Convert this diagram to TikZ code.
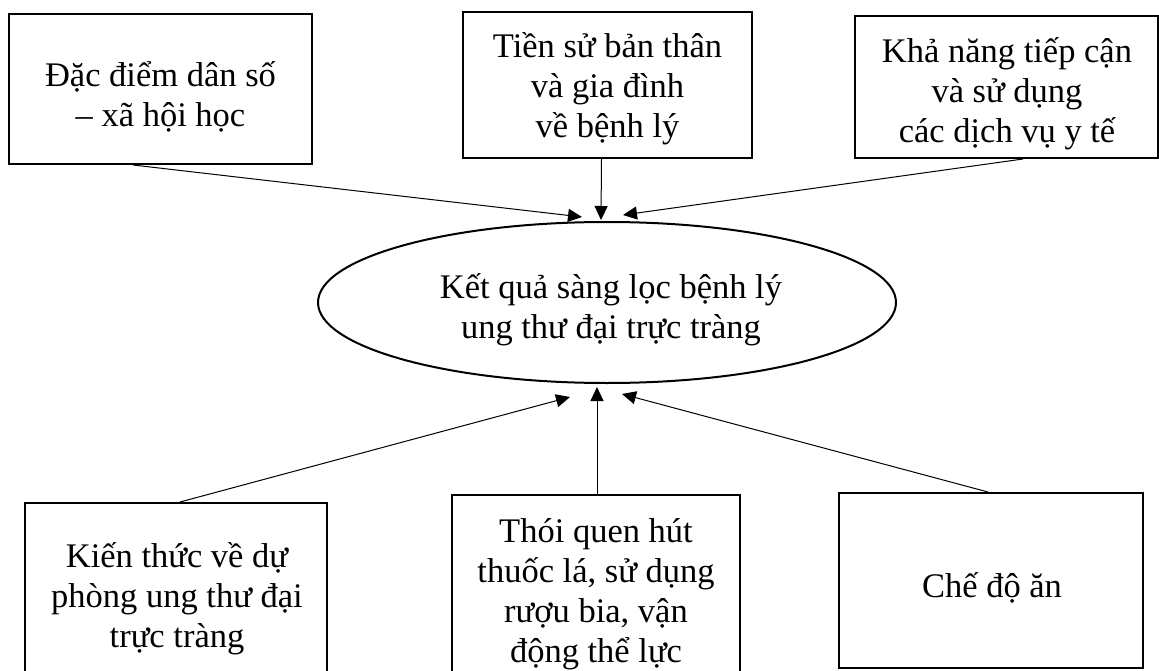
\documentclass[tikz,border=0pt]{standalone}
\usepackage{fontspec}
\setmainfont{Liberation Serif}
\usetikzlibrary{shapes.geometric,arrows.meta}
\begin{document}
\begin{tikzpicture}[x=1pt,y=-1pt,
  box/.style={draw, line width=2pt, inner sep=0pt},
  ell/.style={draw, ellipse, line width=2pt, inner sep=0pt},
  txt/.style={align=center, inner sep=0pt, font=\fontsize{34.5}{40}\selectfont},
  conn/.style={line width=1pt, -{Triangle[length=14pt,width=13pt]}}]
\useasboundingbox (0,0) rectangle (1159,671);
\clip (0,0) rectangle (1159,671);
% top boxes
\node[box, minimum width=303pt, minimum height=150pt] (tl) at (160.5,89) {};
\node[txt] (tltext) at (160.5,97) {Đặc điểm dân số\\– xã hội học};
\node[box, minimum width=289pt, minimum height=146pt] (tm) at (607.5,85) {};
\node[txt] (tmtext) at (607.5,89) {Tiền sử bản thân\\và gia đình\\về bệnh lý};
\node[box, minimum width=303pt, minimum height=142pt] (tr) at (1006.5,87) {};
\node[txt] (trtext) at (1007,93.5) {Khả năng tiếp cận\\và sử dụng\\các dịch vụ y tế};
% centre ellipse
\node[ell, minimum width=578pt, minimum height=161pt] (c) at (607,302.5) {};
\node[txt] (ctext) at (611,310) {Kết quả sàng lọc bệnh lý\\ung thư đại trực tràng};
% bottom boxes
\node[box, minimum width=302pt, minimum height=188pt] (bl) at (176,597) {};
\node[txt] (bltext) at (177,599) {Kiến thức về dự\\phòng ung thư đại\\trực tràng};
\node[box, minimum width=288pt, minimum height=190pt] (bm) at (596,590) {};
\node[txt] (bmtext) at (596,594) {Thói quen hút\\thuốc lá, sử dụng\\rượu bia, vận\\động thể lực};
\node[box, minimum width=304pt, minimum height=175pt] (br) at (991,580.5) {};
\node[txt] (brtext) at (992,587.5) {Chế độ ăn};
% arrow tips near the ellipse
\coordinate (t1) at (582,217);
\coordinate (t2) at (601,220);
\coordinate (t3) at (623,215);
\coordinate (b1) at (570,397);
\coordinate (b2) at (597,387);
\coordinate (b3) at (622,394);
% connectors
\draw[conn] ([xshift=-27.5pt]tl.south) -- (t1);
\draw[conn] ([xshift=-6pt]tm.south) -- (t2);
\draw[conn] ([xshift=16.5pt]tr.south) -- (t3);
\draw[conn] ([xshift=4pt]bl.north) -- (b1);
\draw[conn] ([xshift=1pt]bm.north) -- (b2);
\draw[conn] ([xshift=-3pt]br.north) -- (b3);
\end{tikzpicture}
\end{document}
